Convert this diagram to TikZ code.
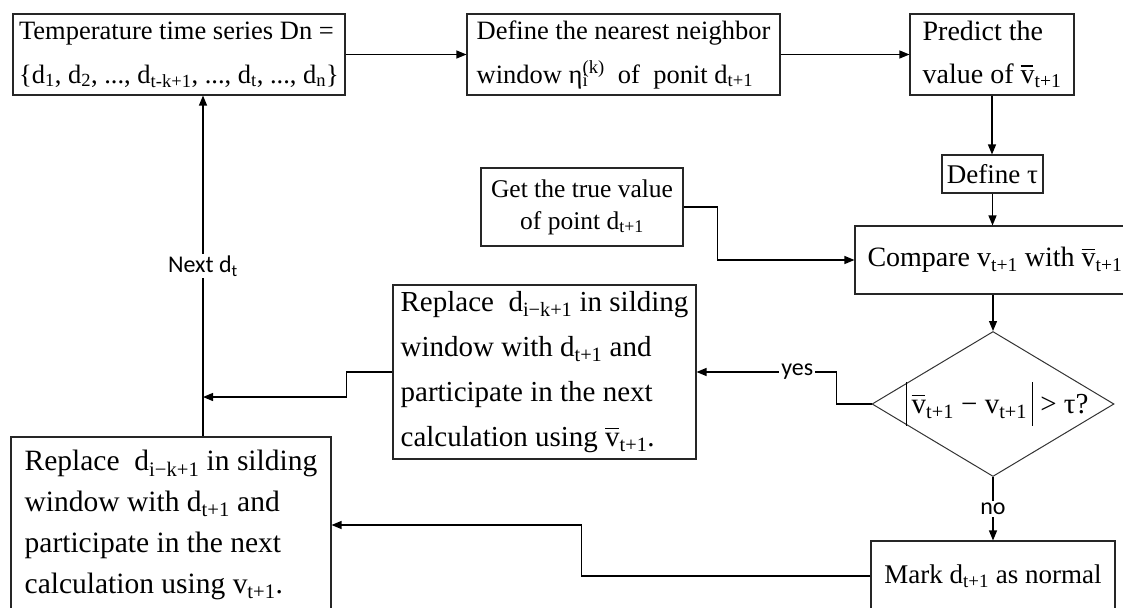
\documentclass[tikz,border=0pt]{standalone}
\usepackage{fontspec}
\setmainfont{Liberation Serif}
\newfontfamily\lblfont{Carlito}
\usetikzlibrary{arrows.meta,positioning,shapes.geometric}
\newcommand{\lo}[1]{\textsubscript{#1}}
\newcommand{\vb}{\makebox[0pt][l]{\rule[0.6em]{0.46em}{0.045em}}v}
\newcommand{\absbar}{\rule[-0.42em]{0.045em}{1.5em}}

\begin{document}
\begin{tikzpicture}[x=1pt,y=-1pt,
    box/.style={draw=black!85, line width=1.1pt, inner sep=3pt, align=left},
    dia/.style={draw=black!80, line width=1pt, diamond, inner sep=0pt,
      minimum width=242pt, minimum height=145pt},
    arr/.style={-{Triangle[length=10pt,width=8pt]}, line width=1.2pt},
    lab/.style={fill=white, inner sep=2pt, font=\fontsize{24}{26}\selectfont\lblfont}]
  \useasboundingbox (0,0) rectangle (1123,607);
  % top row
  \node[box, minimum width=332pt, minimum height=81pt, font=\fontsize{26.5}{44}\selectfont]
    (series) at (179,54.5) {Temperature time series Dn =\\\{d\lo{1}, d\lo{2}, ..., d\lo{t-k+1}, ..., d\lo{t}, ..., d\lo{n}\}};
  \node[box, minimum width=313pt, minimum height=81pt, font=\fontsize{26.5}{44}\selectfont]
    (nbr) at (623.5,54.5) {Define the nearest neighbor\\window η\rlap{\lo{i}}\textsuperscript{(k)}\ \ of\ \ ponit d\lo{t+1}};
  \node[box, minimum width=164pt, minimum height=81pt, font=\fontsize{28}{43}\selectfont]
    (pred) at (992,54.5) {Predict the\\value of \vb\lo{t+1}};
  % right column
  \node[box, minimum width=101pt, minimum height=38pt, font=\fontsize{27}{30}\selectfont]
    (tau) at (992.5,174) {Define τ};
  \node[box, align=center, minimum width=202pt, minimum height=78pt, font=\fontsize{25.5}{32}\selectfont]
    (truev) at (582,207) {Get the true value\\of point d\lo{t+1}};
  \node[box, minimum width=280pt, minimum height=68pt, font=\fontsize{28}{30}\selectfont]
    (cmp) at (995,260) {Compare v\lo{t+1} with \vb\lo{t+1}};
  \node[dia, font=\fontsize{29}{30}\selectfont] (check) at (993,404)
    {\makebox[0pt]{\hspace{8pt}\absbar\,\vb\lo{t+1} − v\lo{t+1}\,\absbar\ > τ?}};
  \node[box, minimum width=244pt, minimum height=70pt, font=\fontsize{27}{30}\selectfont]
    (mark) at (993,576) {Mark d\lo{t+1} as normal};
  % replacement boxes
  \node[box, minimum width=303pt, minimum height=174pt, font=\fontsize{29}{45}\selectfont]
    (repl) at (544.5,372) {Replace\ \ d\lo{i−k+1} in silding\\window with d\lo{t+1} and\\participate in the next\\calculation using \vb\lo{t+1}.};
  \node[box, minimum width=320pt, minimum height=176pt, font=\fontsize{29.5}{41}\selectfont]
    (keep) at (171,525) {Replace\ \ d\lo{i−k+1} in silding\\window with d\lo{t+1} and\\participate in the next\\calculation using v\lo{t+1}.};
  \coordinate (jn) at (203,397);
  % connectors
  \draw[arr] (series.east) -- (nbr.west);
  \draw[arr] (nbr.east) -- (pred.west);
  \draw[arr] (pred.south) -- (pred.south |- tau.north);
  \draw[arr] (tau.south) -- (tau.south |- cmp.north);
  \draw[arr] (truev.east) -- ++(34,0) |- (cmp.west);
  \draw[arr] (check.north |- cmp.south) -- (check.north);
  \draw[arr] (check.west) -- ++(-35,0) |- node[lab, pos=0.64] {yes} (repl.east);
  \draw[arr] (check.south) -- node[lab] {no} (mark.north);
  \draw[arr] (mark.west) -- ++(-289,0) |- (keep.east);
  \draw[arr] (repl.west) -- ++(-46,0) |- (jn);
  \draw[arr] (keep.north -| jn) -- node[lab] {Next d\lo{t}} (series.south -| jn);
\end{tikzpicture}
\end{document}
